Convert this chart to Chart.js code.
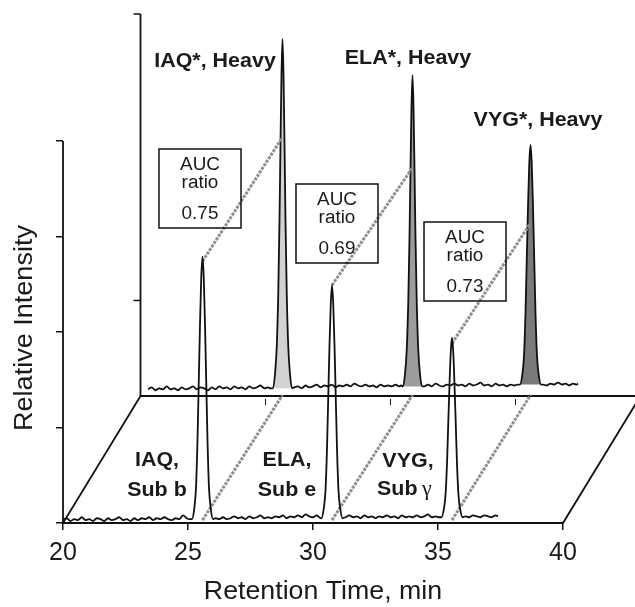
<!DOCTYPE html>
<html>
<head>
<meta charset="utf-8">
<script src="https://cdn.jsdelivr.net/npm/chart.js@4.4.0/dist/chart.umd.min.js"></script>
<style>
    html, body { margin: 0; padding: 0; background: #fff; }
    canvas { display: block; }
</style>
</head>
<body>
<canvas id="chromChart" width="635" height="607"></canvas>
<script>
// Axis ticks (retention time, min / relative intensity)
const X_TICKS = [20, 25, 30, 35, 40];
const Y_TICKS = [0, 1, 2, 3, 4];
const BACK_X_TICKS = [25, 30, 35];
const BACK_Y_TICKS = [1, 4];
const X_MIN = 20, X_MAX = 40, Y_MAX = 4;

// Offset of the back (heavy) plane, in data units
const DEPTH_X = 3.1;
const DEPTH_Y = 1.33;

// Light (endogenous) trace, front plane: [time, intensity]
const LIGHT_NOISE = [
    [20.00, 0.03], [20.15, 0.05], [20.30, 0.02], [20.45, 0.04], [20.60, 0.03], [20.75, 0.06], [20.90, 0.03],
    [21.05, 0.04], [21.20, 0.02], [21.35, 0.05], [21.50, 0.04], [21.65, 0.02], [21.80, 0.05], [21.95, 0.03],
    [22.10, 0.04], [22.25, 0.06], [22.40, 0.03], [22.55, 0.04], [22.70, 0.02], [22.85, 0.05], [23.00, 0.03],
    [23.15, 0.05], [23.30, 0.04], [23.45, 0.06], [23.60, 0.03], [23.75, 0.05], [23.90, 0.04], [24.05, 0.06],
    [24.20, 0.04], [24.35, 0.03], [24.50, 0.05], [24.65, 0.04], [24.80, 0.08], [24.95, 0.05], [25.05, 0.04],
    [26.10, 0.05], [26.25, 0.04], [26.40, 0.06], [26.55, 0.04], [26.70, 0.05], [26.85, 0.07], [27.00, 0.05],
    [27.15, 0.06], [27.30, 0.04], [27.45, 0.07], [27.60, 0.05], [27.75, 0.06], [27.90, 0.08], [28.05, 0.05],
    [28.20, 0.06], [28.35, 0.05], [28.50, 0.07], [28.65, 0.06], [28.80, 0.08], [28.95, 0.05], [29.10, 0.07],
    [29.25, 0.06], [29.40, 0.08], [29.55, 0.06], [29.70, 0.09], [29.85, 0.07], [30.00, 0.06], [30.15, 0.08],
    [30.25, 0.06],
    [31.30, 0.06], [31.45, 0.08], [31.60, 0.06], [31.75, 0.07], [31.90, 0.05], [32.05, 0.08], [32.20, 0.06],
    [32.35, 0.07], [32.50, 0.05], [32.65, 0.07], [32.80, 0.06], [32.95, 0.08], [33.10, 0.06], [33.25, 0.07],
    [33.40, 0.05], [33.55, 0.08], [33.70, 0.06], [33.85, 0.07], [34.00, 0.06], [34.15, 0.08], [34.30, 0.06],
    [34.45, 0.07], [34.60, 0.09], [34.75, 0.06], [34.90, 0.07], [35.05, 0.06],
    [36.10, 0.07], [36.25, 0.06], [36.40, 0.08], [36.55, 0.07], [36.70, 0.06], [36.85, 0.08], [37.00, 0.07],
    [37.15, 0.06], [37.30, 0.08], [37.40, 0.07]
];
const IAQ_LIGHT = [
    [25.16, 0.04], [25.25, 0.15], [25.32, 0.37], [25.38, 0.87], [25.43, 1.47], [25.48, 2.08], [25.53, 2.57],
    [25.58, 2.79], [25.63, 2.57], [25.68, 2.08], [25.73, 1.47], [25.78, 0.87], [25.84, 0.37], [25.91, 0.15], [26.0, 0.04]
];
const ELA_LIGHT = [
    [30.34, 0.05], [30.43, 0.15], [30.50, 0.34], [30.56, 0.78], [30.61, 1.32], [30.66, 1.86], [30.71, 2.29],
    [30.76, 2.49], [30.81, 2.29], [30.86, 1.86], [30.91, 1.32], [30.96, 0.78], [31.02, 0.34], [31.09, 0.15], [31.18, 0.05]
];
const VYG_LIGHT = [
    [35.14, 0.06], [35.23, 0.14], [35.30, 0.29], [35.36, 0.62], [35.41, 1.04], [35.46, 1.45], [35.51, 1.79],
    [35.56, 1.94], [35.61, 1.79], [35.66, 1.45], [35.71, 1.04], [35.76, 0.62], [35.82, 0.29], [35.89, 0.14], [35.98, 0.06]
];

// Heavy (labelled) trace, back plane: [time, intensity]
const HEAVY_NOISE = [
    [20.30, 0.07], [20.45, 0.09], [20.60, 0.06], [20.75, 0.08], [20.90, 0.07], [21.05, 0.10], [21.20, 0.07],
    [21.35, 0.08], [21.50, 0.06], [21.65, 0.09], [21.80, 0.07], [21.95, 0.08], [22.10, 0.10], [22.25, 0.07],
    [22.40, 0.09], [22.55, 0.08], [22.70, 0.06], [22.85, 0.09], [23.00, 0.07], [23.15, 0.10], [23.30, 0.08],
    [23.45, 0.09], [23.60, 0.07], [23.75, 0.10], [23.90, 0.08], [24.05, 0.09], [24.20, 0.07], [24.35, 0.10],
    [24.50, 0.08], [24.65, 0.09], [24.80, 0.11], [24.95, 0.08], [25.10, 0.09], [25.20, 0.08],
    [26.15, 0.09], [26.30, 0.10], [26.45, 0.08], [26.60, 0.11], [26.75, 0.09], [26.90, 0.10], [27.05, 0.12],
    [27.20, 0.09], [27.35, 0.11], [27.50, 0.10], [27.65, 0.12], [27.80, 0.09], [27.95, 0.11], [28.10, 0.10],
    [28.25, 0.12], [28.40, 0.10], [28.55, 0.13], [28.70, 0.11], [28.85, 0.10], [29.00, 0.12], [29.15, 0.10],
    [29.30, 0.11], [29.45, 0.09], [29.60, 0.12], [29.75, 0.10], [29.90, 0.11], [30.05, 0.10], [30.20, 0.12],
    [30.35, 0.10], [30.42, 0.11],
    [31.35, 0.10], [31.50, 0.12], [31.65, 0.10], [31.80, 0.13], [31.95, 0.11], [32.10, 0.10], [32.25, 0.12],
    [32.40, 0.11], [32.55, 0.13], [32.70, 0.11], [32.85, 0.12], [33.00, 0.10], [33.15, 0.13], [33.30, 0.11],
    [33.45, 0.12], [33.60, 0.14], [33.75, 0.11], [33.90, 0.12], [34.05, 0.10], [34.20, 0.13], [34.35, 0.11],
    [34.50, 0.12], [34.65, 0.10], [34.80, 0.12], [34.95, 0.11], [35.10, 0.12],
    [36.10, 0.12], [36.25, 0.11], [36.40, 0.13], [36.55, 0.12], [36.70, 0.14], [36.85, 0.12], [37.00, 0.13],
    [37.15, 0.11], [37.30, 0.13], [37.45, 0.12], [37.50, 0.13]
];
const IAQ_HEAVY = [
    [25.30, 0.08], [25.38, 0.23], [25.45, 0.52], [25.51, 1.07], [25.56, 1.84], [25.60, 2.64], [25.64, 3.37],
    [25.68, 3.74], [25.72, 3.37], [25.76, 2.64], [25.80, 1.84], [25.85, 1.07], [25.91, 0.52], [25.98, 0.23], [26.06, 0.08]
];
const ELA_HEAVY = [
    [30.50, 0.10], [30.58, 0.23], [30.65, 0.49], [30.71, 0.98], [30.76, 1.66], [30.80, 2.38], [30.84, 3.03],
    [30.88, 3.36], [30.92, 3.03], [30.96, 2.38], [31.00, 1.66], [31.05, 0.98], [31.11, 0.49], [31.18, 0.23], [31.26, 0.10]
];
const VYG_HEAVY = [
    [35.18, 0.12], [35.27, 0.22], [35.34, 0.42], [35.40, 0.87], [35.45, 1.43], [35.50, 1.98], [35.55, 2.43],
    [35.60, 2.63], [35.65, 2.43], [35.70, 1.98], [35.75, 1.43], [35.80, 0.87], [35.86, 0.42], [35.93, 0.22], [36.02, 0.12]
];

// Dashed links light peak -> heavy peak
const LINK_FROM = [25.58, 30.76, 35.56];
const LINK_TO = [25.68, 30.88, 35.60];
const LINK_TOP_FRONT = [2.74, 2.49, 1.88];
const LINK_TOP_BACK = [2.71, 2.39, 1.81];
const LINK_BASE_FRONT = 0.03;
const LINK_BASE_BACK = 0.01;

// Text
const HEAVY_LABELS = ['IAQ*, Heavy', 'ELA*, Heavy', 'VYG*, Heavy'];
const LIGHT_NAMES = ['IAQ,', 'ELA,', 'VYG,'];
const LIGHT_SUBS = ['Sub b', 'Sub e', 'Sub'];
const AUC_RATIOS = ['0.75', '0.69', '0.73'];

// Styles / layout
const HEAVY_FILLS = ['#d2d2d2', '#9c9c9c', '#7a7a7a'];
const TEXT_COLOR = '#1a1a1a';
const FONT = '"Liberation Sans", Arial, Helvetica, sans-serif';
const HEAVY_LABEL_POS = [[215, 67], [408, 64], [538, 126]];
const LIGHT_LABEL_POS = [[157, 466, 496], [287, 466, 496], [408, 467, 495]];
const AUC_BOXES = [[159, 149, 82, 79], [296, 184, 82, 79], [424, 222, 82, 79]];

function toXY(points, dx, dy) {
    return points.map(([t, v]) => ({ x: t + dx, y: v + dy }));
}

function byTime(a, b) {
    return a[0] - b[0];
}

function lineSet(data, extra) {
    return Object.assign({
        data: data,
        borderColor: '#111',
        borderWidth: 1.4,
        pointRadius: 0,
        fill: false,
        clip: false,
        tension: 0
    }, extra);
}

function drawText(ctx, text, x, y, font, sx, align) {
    ctx.save();
    ctx.font = font;
    ctx.fillStyle = TEXT_COLOR;
    ctx.textAlign = align || 'center';
    ctx.textBaseline = 'alphabetic';
    ctx.translate(x, y);
    ctx.scale(sx, 1);
    ctx.fillText(text, 0, 0);
    ctx.restore();
}

const lightTrace = [...LIGHT_NOISE, ...IAQ_LIGHT, ...ELA_LIGHT, ...VYG_LIGHT].sort(byTime);
const heavyTrace = [...HEAVY_NOISE, ...IAQ_HEAVY, ...ELA_HEAVY, ...VYG_HEAVY].sort(byTime);
const heavyPeaks = [IAQ_HEAVY, ELA_HEAVY, VYG_HEAVY];

const linkSets = [];
LINK_FROM.forEach((t, i) => {
    const dash = { borderColor: '#8f8f8f', borderWidth: 3, borderDash: [3, 1.2] };
    linkSets.push(lineSet([
        { x: t, y: LINK_TOP_FRONT[i] },
        { x: LINK_TO[i] + DEPTH_X, y: LINK_TOP_BACK[i] + DEPTH_Y }
    ], dash));
    linkSets.push(lineSet([
        { x: t, y: LINK_BASE_FRONT },
        { x: LINK_TO[i] + DEPTH_X, y: LINK_BASE_BACK + DEPTH_Y }
    ], dash));
});

const fillSets = heavyPeaks.map((peak, i) => lineSet(toXY(peak, DEPTH_X, DEPTH_Y), {
    borderColor: 'rgba(0,0,0,0)',
    backgroundColor: HEAVY_FILLS[i],
    fill: { value: peak[0][1] + DEPTH_Y },
    cubicInterpolationMode: 'monotone'
}));

const frame = { borderColor: '#111', borderWidth: 1.8 };
const frameSets = [
    lineSet([{ x: X_MIN, y: 0 }, { x: X_MIN, y: Y_MAX }], frame),
    lineSet([{ x: X_MIN + DEPTH_X, y: DEPTH_Y }, { x: X_MIN + DEPTH_X, y: Y_MAX + DEPTH_Y }], frame),
    lineSet([
        { x: X_MIN + DEPTH_X, y: DEPTH_Y },
        { x: X_MIN, y: 0 },
        { x: X_MAX, y: 0 },
        { x: X_MAX + DEPTH_X, y: DEPTH_Y },
        { x: X_MIN + DEPTH_X, y: DEPTH_Y }
    ], frame)
];

const annotations = {
    id: 'annotations',
    afterDatasetsDraw(chart) {
        const { ctx, scales: { x, y } } = chart;

        // back plane tick marks
        ctx.save();
        ctx.strokeStyle = '#111';
        ctx.lineWidth = 1.5;
        const bx = x.getPixelForValue(X_MIN + DEPTH_X);
        BACK_Y_TICKS.forEach(v => {
            const py = y.getPixelForValue(v + DEPTH_Y);
            ctx.beginPath();
            ctx.moveTo(bx - 7, py);
            ctx.lineTo(bx, py);
            ctx.stroke();
        });
        ctx.lineWidth = 1;
        const by = y.getPixelForValue(DEPTH_Y);
        BACK_X_TICKS.forEach(t => {
            const px = x.getPixelForValue(t + DEPTH_X);
            ctx.beginPath();
            ctx.moveTo(px, by + 3);
            ctx.lineTo(px, by + 9);
            ctx.stroke();
        });
        ctx.restore();

        // peak labels
        const bold = 'bold 19.5px ' + FONT;
        HEAVY_LABELS.forEach((label, i) => {
            drawText(ctx, label, HEAVY_LABEL_POS[i][0], HEAVY_LABEL_POS[i][1], bold, 1.1);
        });
        LIGHT_NAMES.forEach((name, i) => {
            const [cx, y1, y2] = LIGHT_LABEL_POS[i];
            drawText(ctx, name, cx, y1, bold, 1.1);
            if (i < 2) {
                drawText(ctx, LIGHT_SUBS[i], cx, y2, bold, 1.1);
            } else {
                drawText(ctx, LIGHT_SUBS[i], cx - 31, y2, bold, 1.1, 'left');
                drawText(ctx, '\u03b3', cx + 14, y2, '22px "Liberation Serif", "Times New Roman", serif', 1, 'left');
            }
        });

        // AUC ratio boxes
        const plain = '18px ' + FONT;
        AUC_RATIOS.forEach((ratio, i) => {
            const [bxl, byt, w, h] = AUC_BOXES[i];
            ctx.save();
            ctx.strokeStyle = '#111';
            ctx.lineWidth = 1.5;
            ctx.strokeRect(bxl, byt, w, h);
            ctx.restore();
            const cx = bxl + w / 2;
            drawText(ctx, 'AUC', cx, byt + 21, plain, 1.05);
            drawText(ctx, 'ratio', cx, byt + 39, plain, 1.05);
            drawText(ctx, ratio, cx, byt + 69.5, plain, 1.05);
        });

        // axis titles
        drawText(ctx, 'Retention Time, min', 323, 599, '25px ' + FONT, 1.07);
        ctx.save();
        ctx.translate(32, 328);
        ctx.rotate(-Math.PI / 2);
        drawText(ctx, 'Relative Intensity', 0, 0, '26px ' + FONT, 1.04);
        ctx.restore();
    }
};

new Chart(document.getElementById('chromChart'), {
    type: 'line',
    data: {
        datasets: [
            lineSet(toXY(lightTrace, 0, 0), { cubicInterpolationMode: 'monotone', borderWidth: 1.8 }),
            ...linkSets,
            lineSet(toXY(heavyTrace, DEPTH_X, DEPTH_Y), { cubicInterpolationMode: 'monotone', borderWidth: 1.8 }),
            ...fillSets,
            ...frameSets
        ]
    },
    options: {
        responsive: false,
        animation: false,
        layout: { padding: { top: 5, right: 0, bottom: 0, left: 0 } },
        plugins: {
            legend: { display: false },
            tooltip: { enabled: false }
        },
        scales: {
            x: {
                type: 'linear',
                min: X_MIN,
                max: X_MIN + 572 / 25,
                afterFit: scale => { scale.height = 84; },
                afterBuildTicks: scale => { scale.ticks = X_TICKS.map(v => ({ value: v })); },
                border: { display: false },
                grid: { drawOnChartArea: false, drawTicks: true, tickLength: 7, color: '#111', lineWidth: 1.5 },
                ticks: {
                    autoSkip: false,
                    maxRotation: 0,
                    padding: 8,
                    color: TEXT_COLOR,
                    font: { family: FONT, size: 25 },
                    callback: v => String(v)
                }
            },
            y: {
                type: 'linear',
                min: 0,
                max: 518 / 95.5,
                afterFit: scale => { scale.width = 63; },
                afterBuildTicks: scale => { scale.ticks = Y_TICKS.map(v => ({ value: v })); },
                border: { display: false },
                grid: { drawOnChartArea: false, drawTicks: true, tickLength: 7, color: '#111', lineWidth: 1.5 },
                ticks: { display: false }
            }
        }
    },
    plugins: [annotations]
});
</script>
</body>
</html>
